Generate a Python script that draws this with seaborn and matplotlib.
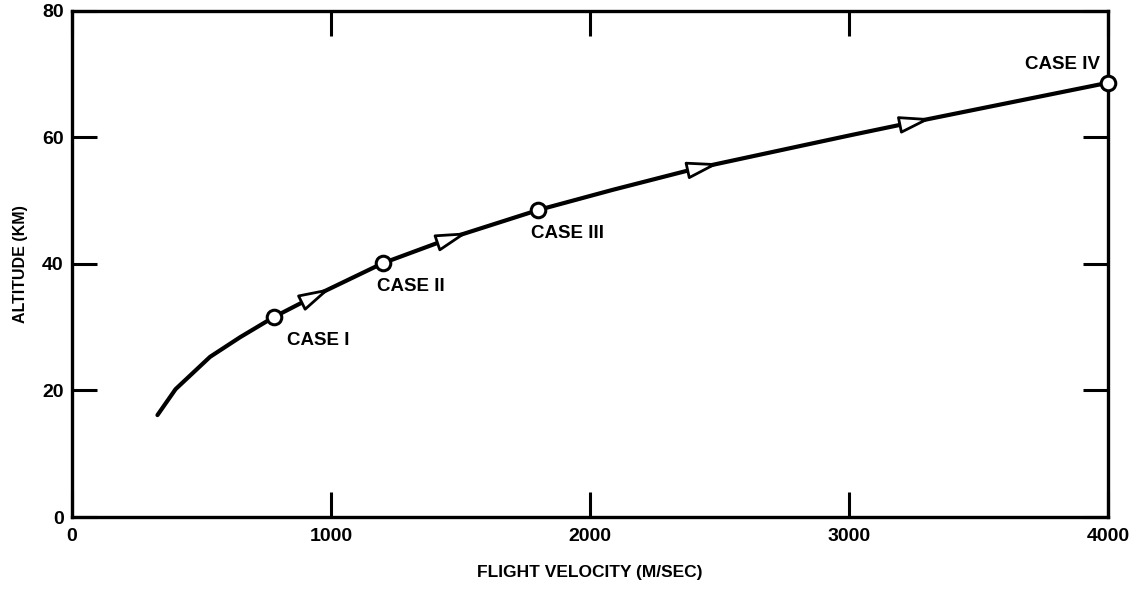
import numpy as np
import pandas as pd
import matplotlib
matplotlib.use("Agg")
import matplotlib.pyplot as plt
import seaborn as sns

# Flight path: velocity (m/s) vs altitude (km)
velocity = [330, 400, 533, 649, 780, 946, 1200, 1471, 1800, 2089, 2413, 2799, 3004, 3250, 4000]
altitude = [16.1, 20.2, 25.3, 28.4, 31.6, 35.1, 40.1, 44.2, 48.5, 51.7, 55.1, 58.5, 60.3, 62.4, 68.6]

# Design cases along the trajectory
case_velocity = [780, 1200, 1800, 4000]
case_altitude = [31.6, 40.1, 48.5, 68.6]
case_labels = ["CASE I", "CASE II", "CASE III", "CASE IV"]

# Direction-of-flight arrow tips (velocity)
arrow_tips = [1000, 1530, 2500, 3320]

x_ticks = [0, 1000, 2000, 3000, 4000]
y_ticks = [0, 20, 40, 60, 80]

sns.set_theme(style="white")
plt.rcParams["font.family"] = ["Liberation Sans", "DejaVu Sans"]
plt.rcParams["font.weight"] = "bold"
plt.rcParams["axes.labelcolor"] = "black"
plt.rcParams["text.color"] = "black"

fig = plt.figure(figsize=(11.41, 5.91), dpi=100)
ax = fig.add_axes([0.0631, 0.1252, 0.971 - 0.0631, 0.982 - 0.1252])

path = pd.DataFrame({"velocity": velocity, "altitude": altitude})
sns.lineplot(data=path, x="velocity", y="altitude", sort=False, ax=ax,
             color="black", linewidth=3.0, solid_capstyle="round",
             solid_joinstyle="round", zorder=3)

# Direction arrows placed on the curve
for tip in arrow_tips:
    base = tip - 100
    ax.annotate("", xy=(tip, np.interp(tip, velocity, altitude)),
                xytext=(base, np.interp(base, velocity, altitude)),
                arrowprops=dict(arrowstyle="-|>,head_length=1.4,head_width=0.38",
                                mutation_scale=14, fc="white", ec="black",
                                lw=2.0, shrinkA=0, shrinkB=0),
                zorder=4)

cases = pd.DataFrame({"velocity": case_velocity, "altitude": case_altitude})
sns.scatterplot(data=cases, x="velocity", y="altitude", ax=ax, s=110,
                facecolor="white", edgecolor="black", linewidth=2.2,
                zorder=5, clip_on=False)

label_offsets = [(9, -17, "left"), (-4, -17, "left"), (-5, -17, "left"), (-6, 13, "right")]
for vx, vy, text, (dx, dy, ha) in zip(case_velocity, case_altitude, case_labels, label_offsets):
    ax.annotate(text, xy=(vx, vy), xytext=(dx, dy), textcoords="offset points",
                ha=ha, va="center", fontsize=13.5, fontweight="bold", color="black")

ax.set_xlim(0, 4000)
ax.set_ylim(0, 80)
ax.set_xticks(x_ticks)
ax.set_yticks(y_ticks)
ax.set_xticklabels([str(t) for t in x_ticks])
ax.set_yticklabels([str(t) for t in y_ticks])

ax.tick_params(axis="both", which="major", direction="in", length=18, width=2.2,
               color="black", labelsize=14, labelcolor="black",
               top=True, right=True, bottom=True, left=True)
ax.tick_params(axis="x", pad=8)
ax.tick_params(axis="y", pad=6)
for lab in ax.get_xticklabels() + ax.get_yticklabels():
    lab.set_fontweight("bold")

for side in ["left", "right", "top", "bottom"]:
    ax.spines[side].set_visible(True)
    ax.spines[side].set_color("black")
    ax.spines[side].set_linewidth(2.4)

ax.set_xlabel("FLIGHT VELOCITY (M/SEC)", fontsize=12.5, fontweight="bold",
              labelpad=14, color="black")
ax.set_ylabel("ALTITUDE (KM)", fontsize=11.5, fontweight="bold",
              labelpad=10, color="black")
ax.grid(False)

fig.savefig("out.png", dpi=100, facecolor="white")
